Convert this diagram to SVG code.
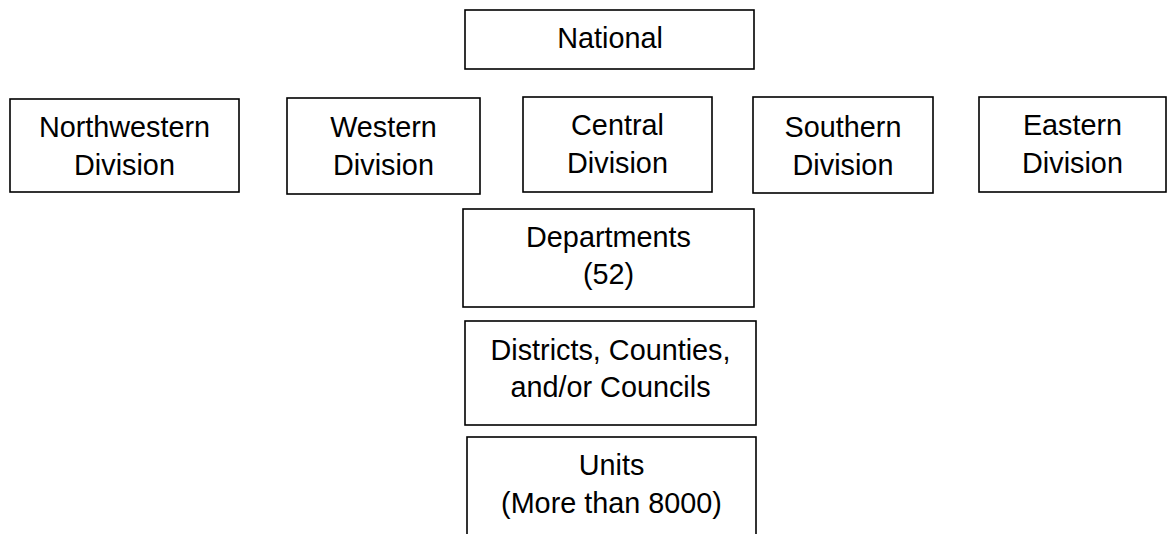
<svg xmlns="http://www.w3.org/2000/svg" width="1168" height="534" viewBox="0 0 1168 534">
<style>
.box{fill:#fff;stroke:#000;stroke-width:1.6}
.t{font-family:"Liberation Sans",Arial,sans-serif;font-size:28.8px;fill:#000;text-anchor:middle}
</style>
<rect width="1168" height="534" fill="#fff"/>
<g id="connectors"></g>
<g id="national"><rect class="box" x="465" y="10" width="289" height="59"/><text class="t" x="610" y="48">National</text></g>
<g id="northwestern"><rect class="box" x="10" y="99" width="229" height="93"/><text class="t" x="124.5" y="137">Northwestern</text><text class="t" x="124.5" y="175">Division</text></g>
<g id="western"><rect class="box" x="287" y="98" width="193" height="96"/><text class="t" x="383.5" y="137">Western</text><text class="t" x="383.5" y="175">Division</text></g>
<g id="central"><rect class="box" x="523" y="97" width="189" height="95"/><text class="t" x="617.5" y="135">Central</text><text class="t" x="617.5" y="173">Division</text></g>
<g id="southern"><rect class="box" x="753" y="97" width="180" height="96"/><text class="t" x="843" y="137">Southern</text><text class="t" x="843" y="175">Division</text></g>
<g id="eastern"><rect class="box" x="979" y="97" width="187" height="95"/><text class="t" x="1072.5" y="135">Eastern</text><text class="t" x="1072.5" y="173">Division</text></g>
<g id="departments"><rect class="box" x="463" y="209" width="291" height="98"/><text class="t" x="608.5" y="247">Departments</text><text class="t" x="608.5" y="284">(52)</text></g>
<g id="districts"><rect class="box" x="465" y="321" width="291" height="104"/><text class="t" x="610.5" y="360">Districts, Counties,</text><text class="t" x="610.5" y="397">and/or Councils</text></g>
<g id="units"><rect class="box" x="467" y="437" width="289" height="110"/><text class="t" x="611.5" y="475">Units</text><text class="t" x="611.5" y="513">(More than 8000)</text></g>
</svg>
